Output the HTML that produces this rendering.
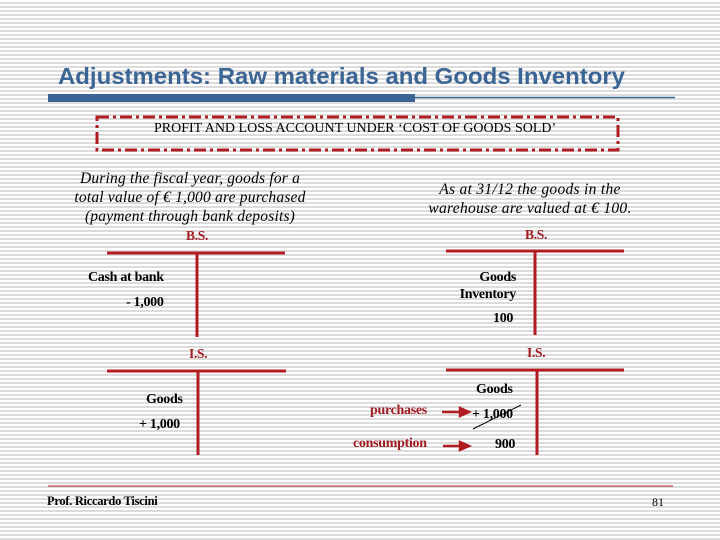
<!DOCTYPE html>
<html><head><meta charset="utf-8"><style>
body{margin:0}
#s{position:relative;width:720px;height:540px;overflow:hidden;background:repeating-linear-gradient(to bottom,#fff 0,#fff 2px,#dcdcdc 2px,#dcdcdc 4px);font-family:"Liberation Serif",serif}
.t{position:absolute;white-space:nowrap}
.b{font-weight:bold;letter-spacing:-0.3px}
</style></head><body>
<div id="s">
<svg width="720" height="540" style="position:absolute;left:0;top:0">
<text x="58" y="84" font-family="Liberation Sans" font-weight="bold" textLength="567" lengthAdjust="spacingAndGlyphs" fill="#3a6595" style="font-size:23.5px">Adjustments: Raw materials and Goods Inventory</text>
<rect x="48" y="94" width="367" height="8" fill="#3a6595"/>
<line x1="415" y1="97.5" x2="675" y2="97.5" stroke="#3a6595" stroke-width="1.5"/>
<rect x="97" y="117" width="521" height="33" fill="none" stroke="#b01c22" stroke-width="3" stroke-dasharray="12,4,3,4"/>
<g stroke="#b01c22" stroke-width="3">
<line x1="107" y1="253" x2="285" y2="253"/><line x1="197" y1="253" x2="197" y2="337"/>
<line x1="107" y1="371" x2="286" y2="371"/><line x1="198" y1="371" x2="198" y2="455"/>
<line x1="446" y1="251" x2="624" y2="251"/><line x1="535" y1="251" x2="535" y2="335"/>
<line x1="446" y1="370" x2="624" y2="370"/><line x1="537" y1="370" x2="537" y2="455"/>
</g>
<g stroke="#b01c22" stroke-width="2.5" fill="#b01c22">
<line x1="442" y1="412" x2="462" y2="412"/><polygon points="460,408 469,412 460,416"/>
<line x1="443" y1="446" x2="462" y2="446"/><polygon points="460,442 469,446 460,450"/>
</g>
<line x1="473" y1="429" x2="521" y2="405" stroke="#000" stroke-width="1"/>
<line x1="48" y1="486" x2="673" y2="486" stroke="#b01c22" stroke-width="1"/>
</svg>
<div class="t" style="left:154px;top:121px;font-size:14px">PROFIT AND LOSS ACCOUNT UNDER ‘COST OF GOODS SOLD’</div>
<div class="t" style="left:40px;top:169px;width:300px;text-align:center;font-style:italic;font-size:15.5px;letter-spacing:0.2px;line-height:19px">During the fiscal year, goods for a<br>total value of € 1,000 are purchased<br>(payment through bank deposits)</div>
<div class="t" style="left:395px;top:180px;width:270px;text-align:center;font-style:italic;font-size:15.5px;letter-spacing:0.3px;line-height:19px">As at 31/12 the goods in the<br>warehouse are valued at € 100.</div>
<div class="t b" style="left:186px;top:228px;font-size:13.5px;color:#a01c22">B.S.</div>
<div class="t b" style="left:525px;top:227px;font-size:13.5px;color:#a01c22">B.S.</div>
<div class="t b" style="left:189px;top:346px;font-size:13.5px;color:#a01c22">I.S.</div>
<div class="t b" style="left:527px;top:345px;font-size:13.5px;color:#a01c22">I.S.</div>
<div class="t b" style="left:88px;top:270px;font-size:14px">Cash at bank</div>
<div class="t b" style="left:126px;top:295px;font-size:14px">- 1,000</div>
<div class="t b" style="left:436px;top:269px;width:80px;text-align:right;font-size:14px;line-height:17px">Goods<br>Inventory</div>
<div class="t b" style="left:493px;top:311px;font-size:14px">100</div>
<div class="t b" style="left:146px;top:392px;font-size:14px">Goods</div>
<div class="t b" style="left:139px;top:417px;font-size:14px">+ 1,000</div>
<div class="t b" style="left:476px;top:382px;font-size:14px">Goods</div>
<div class="t b" style="left:370px;top:403px;font-size:14px;color:#a01c22">purchases</div>
<div class="t b" style="left:472px;top:407px;font-size:14px">+ 1,000</div>
<div class="t b" style="left:353px;top:436px;font-size:14px;color:#a01c22">consumption</div>
<div class="t b" style="left:495px;top:437px;font-size:14px">900</div>
<div class="t b" style="left:47px;top:494px;font-size:12.5px">Prof. Riccardo Tiscini</div>
<div class="t" style="left:652px;top:495px;font-size:12px">81</div>
</div>
</body></html>
